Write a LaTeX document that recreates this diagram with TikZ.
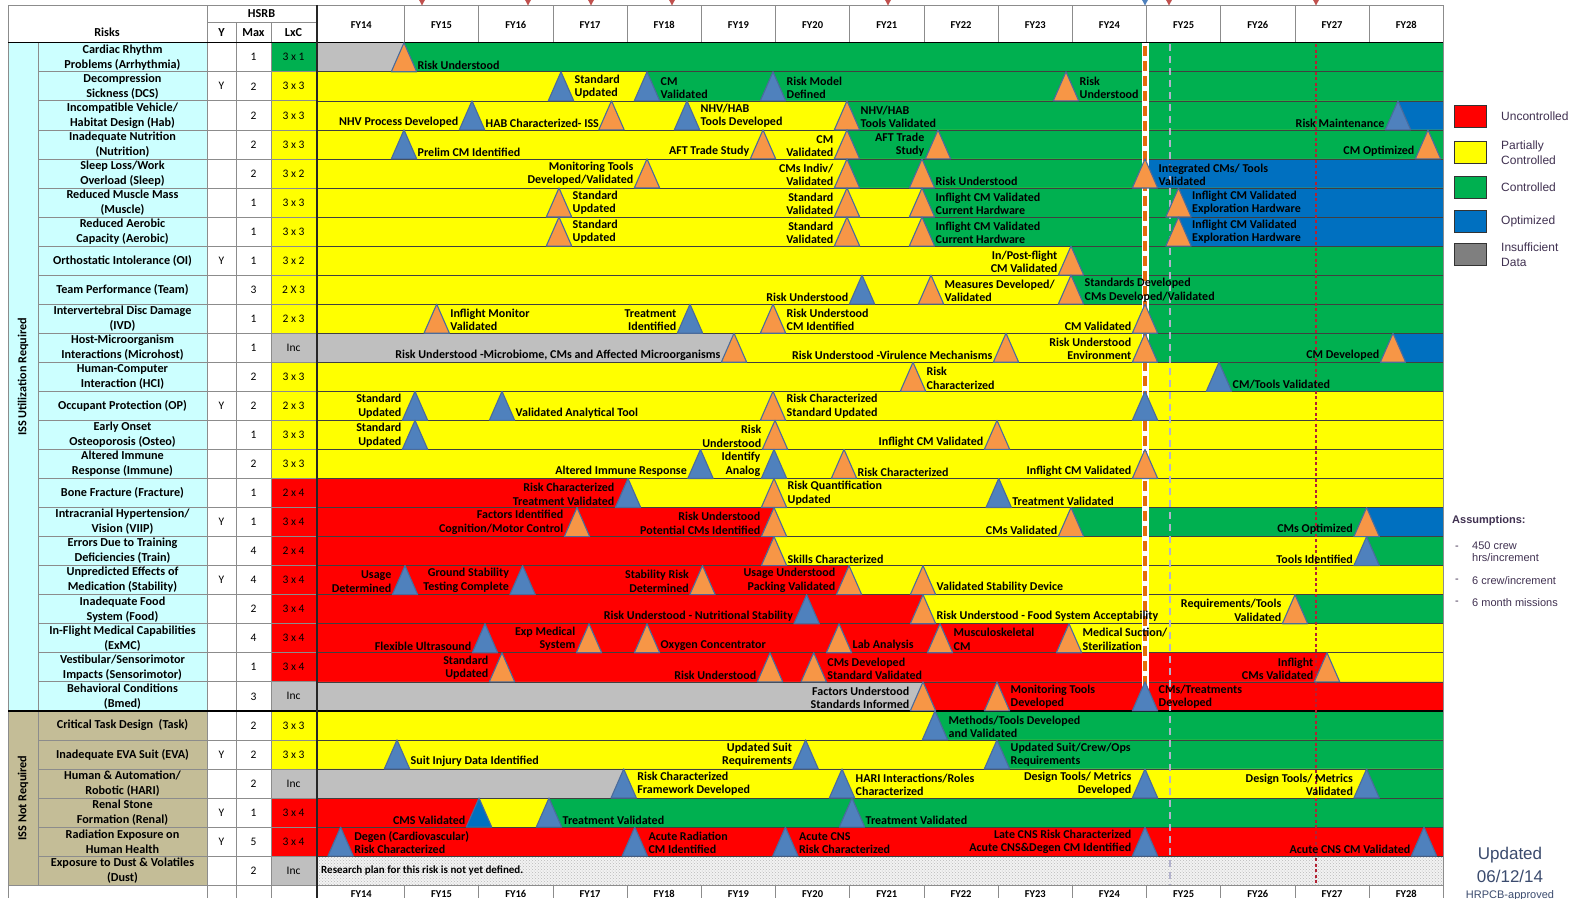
\documentclass[tikz,border=0pt]{standalone}
\usepackage{fontspec}
\setmainfont{Carlito}
\newfontfamily\arialfont{Liberation Sans}
\usetikzlibrary{patterns}

\definecolor{riskred}{HTML}{FF0000}
\definecolor{riskyellow}{HTML}{FFFF00}
\definecolor{riskgreen}{HTML}{00B050}
\definecolor{riskblue}{HTML}{0070C0}
\definecolor{riskgray}{HTML}{BFBFBF}
\definecolor{legendgray}{HTML}{7F7F7F}
\definecolor{msblue}{HTML}{4F81BD}
\definecolor{msorange}{HTML}{F79646}
\definecolor{msedge}{HTML}{4A6B9C}
\definecolor{isscyan}{HTML}{CCFFFF}
\definecolor{isstan}{HTML}{C4BD97}
\definecolor{legendtext}{HTML}{403151}
\definecolor{updtext}{HTML}{3B4B6E}
\definecolor{gridgray}{HTML}{8C8C8C}
\definecolor{markred}{HTML}{C0504D}
\definecolor{dotred}{HTML}{B22234}
\definecolor{nowline}{HTML}{E46C0A}
\definecolor{planline}{RGB}{178,178,205}

\tikzset{
  milestone/.style={draw=msedge, line width=1.1pt, line join=round},
  mslabel/.style={font=\bfseries\fontsize{12}{13.5}\selectfont, inner xsep=1pt, inner ysep=1pt},
  tabletext/.style={font=\bfseries\fontsize{12.2}{15}\selectfont, align=center, inner sep=0pt},
  tablevalue/.style={font=\fontsize{11.5}{13}\selectfont, inner sep=0pt},
  gridline/.style={draw=gridgray, line width=0.7pt},
  rowline/.style={draw=black!75, line width=0.6pt},
  legendbox/.style={draw=black!80, line width=1pt},
  legendlabel/.style={font=\arialfont\fontsize{12}{15.5}\selectfont, text=legendtext, align=left, inner sep=0pt},
  yearlabel/.style={font=\bfseries\fontsize{10.5}{12}\selectfont, inner sep=0pt},
}

% row geometry: 29 rows, first row starts at 42.7
\newcount\lblno
\newcommand{\rowpos}[1]{%
  \pgfmathsetmacro\rtop{42.7+29.05*(#1-1)}%
  \pgfmathsetmacro\rbot{42.7+29.05*#1}}
% colour band from a milestone to the end of the row
\newcommand{\riskband}[3]{\rowpos{#1}%
  \fill[#3] (#2,\rtop) -- (1443.3,\rtop) -- (1443.3,\rbot) -- ({#2-12.7},\rbot) -- cycle;}
% milestone triangle, with or without a label
\newcommand{\msN}[3]{\rowpos{#1}%
  \draw[milestone,fill=#3] (#2,\rtop) -- ({#2+12.7},\rbot) -- ({#2-12.7},\rbot) -- cycle;}
\newcommand{\lblR}[3]{\rowpos{#1}\global\advance\lblno by 1
  \node[mslabel,anchor=south west,align=left] (ms-\the\lblno) at ({#2+12.5},{\rbot-1}) {#3};}
\newcommand{\lblL}[3]{\rowpos{#1}\global\advance\lblno by 1
  \node[mslabel,anchor=south east,align=right] (ms-\the\lblno) at ({#2-12.5},{\rbot-1}) {#3};}
\newcommand{\msR}[4]{\msN{#1}{#2}{#3}\lblR{#1}{#2}{#4}}
\newcommand{\msL}[4]{\msN{#1}{#2}{#3}\lblL{#1}{#2}{#4}}

\begin{document}
\begin{tikzpicture}[x=1pt,y=-1pt]
\useasboundingbox (0,0) rectangle (1585,898);
\fill[white] (0,0) rectangle (1585,898);

% Draw the colour bands of each risk
\begin{scope}
\clip (318,42.7) rectangle (1443.3,885.15);
\riskband{1}{318}{riskgray} \riskband{1}{404}{riskgreen}
\riskband{2}{318}{riskyellow} \riskband{2}{647}{riskgreen}
\riskband{3}{318}{riskyellow} \riskband{3}{847}{riskgreen} \riskband{3}{1398}{riskblue}
\riskband{4}{318}{riskyellow} \riskband{4}{847}{riskgreen}
\riskband{5}{318}{riskyellow} \riskband{5}{847}{riskgreen} \riskband{5}{1145}{riskblue}
\riskband{6}{318}{riskyellow} \riskband{6}{922}{riskgreen} \riskband{6}{1178.5}{riskblue}
\riskband{7}{318}{riskyellow} \riskband{7}{922}{riskgreen} \riskband{7}{1178.5}{riskblue}
\riskband{8}{318}{riskyellow} \riskband{8}{1071}{riskgreen}
\riskband{9}{318}{riskyellow} \riskband{9}{1071}{riskgreen}
\riskband{10}{318}{riskyellow} \riskband{10}{1145}{riskgreen}
\riskband{11}{318}{riskgray} \riskband{11}{734}{riskyellow} \riskband{11}{1145}{riskgreen} \riskband{11}{1393}{riskblue}
\riskband{12}{318}{riskyellow} \riskband{12}{1219}{riskgreen}
\riskband{13}{318}{riskyellow}
\riskband{14}{318}{riskyellow}
\riskband{15}{318}{riskyellow}
\riskband{16}{318}{riskred} \riskband{16}{628}{riskyellow}
\riskband{17}{318}{riskred} \riskband{17}{774}{riskyellow} \riskband{17}{1071}{riskgreen} \riskband{17}{1366.6}{riskblue}
\riskband{18}{318}{riskred} \riskband{18}{774}{riskyellow} \riskband{18}{1366.6}{riskgreen}
\riskband{19}{318}{riskred} \riskband{19}{849}{riskyellow}
\riskband{20}{318}{riskred} \riskband{20}{923}{riskyellow} \riskband{20}{1295}{riskgreen}
\riskband{21}{318}{riskred} \riskband{21}{1069}{riskyellow}
\riskband{22}{318}{riskred} \riskband{22}{1327}{riskyellow}
\riskband{23}{318}{riskgray} \riskband{23}{923}{riskred}
\riskband{24}{318}{riskyellow} \riskband{24}{935}{riskgreen}
\riskband{25}{318}{riskyellow} \riskband{25}{997}{riskgreen}
\riskband{26}{318}{riskgray} \riskband{26}{623.7}{riskyellow} \riskband{26}{1366.6}{riskgreen}
\riskband{27}{318}{riskred} \riskband{27}{479}{riskyellow} \riskband{27}{549}{riskgreen}
\riskband{28}{318}{riskred}
% no plan yet: dotted row
\fill[gray!10] (318,856.1) rectangle (1443.3,885.15);
\fill[pattern=crosshatch dots, pattern color=gray!55] (318,856.1) rectangle (1443.3,885.15);
\end{scope}
\node[mslabel,anchor=west,font=\bfseries\fontsize{11}{12}\selectfont] (dust-note) at (320,870.6) {Research plan for this risk is not yet defined.};

% Draw the row lines of the chart
\foreach \i in {1,...,28}
  \draw[rowline] (318,{42.7+29.05*\i}) -- (1443.3,{42.7+29.05*\i});

% Draw the left table
\fill[isscyan] (8,42.7) rectangle (207,710.9);
\fill[isstan] (8,710.9) rectangle (207,885.15);
\node[tabletext,rotate=90] (iss-req) at (23,376.8) {ISS Utilization Required};
\node[tabletext,rotate=90] (iss-notreq) at (23,798) {ISS Not Required};
\foreach \i/\nm/\yv/\mx/\lxc/\col in {
  1/{Cardiac Rhythm\\Problems (Arrhythmia)}/{}/1/{3 x 1}/riskgreen,
  2/{Decompression\\Sickness (DCS)}/Y/2/{3 x 3}/riskyellow,
  3/{Incompatible Vehicle/\\Habitat Design (Hab)}/{}/2/{3 x 3}/riskyellow,
  4/{Inadequate Nutrition\\(Nutrition)}/{}/2/{3 x 3}/riskyellow,
  5/{Sleep Loss/Work\\Overload (Sleep)}/{}/2/{3 x 2}/riskyellow,
  6/{Reduced Muscle Mass\\(Muscle)}/{}/1/{3 x 3}/riskyellow,
  7/{Reduced Aerobic\\Capacity (Aerobic)}/{}/1/{3 x 3}/riskyellow,
  8/{Orthostatic Intolerance (OI)}/Y/1/{3 x 2}/riskyellow,
  9/{Team Performance (Team)}/{}/3/{2 X 3}/riskyellow,
  10/{Intervertebral Disc Damage\\(IVD)}/{}/1/{2 x 3}/riskyellow,
  11/{Host-Microorganism\\Interactions (Microhost)}/{}/1/Inc/riskgray,
  12/{Human-Computer\\Interaction (HCI)}/{}/2/{3 x 3}/riskyellow,
  13/{Occupant Protection (OP)}/Y/2/{2 x 3}/riskyellow,
  14/{Early Onset\\Osteoporosis (Osteo)}/{}/1/{3 x 3}/riskyellow,
  15/{Altered Immune\\Response (Immune)}/{}/2/{3 x 3}/riskyellow,
  16/{Bone Fracture (Fracture)}/{}/1/{2 x 4}/riskred,
  17/{Intracranial Hypertension/\\Vision (VIIP)}/Y/1/{3 x 4}/riskred,
  18/{Errors Due to Training\\Deficiencies (Train)}/{}/4/{2 x 4}/riskred,
  19/{Unpredicted Effects of\\Medication (Stability)}/Y/4/{3 x 4}/riskred,
  20/{Inadequate Food\\System (Food)}/{}/2/{3 x 4}/riskred,
  21/{In-Flight Medical Capabilities\\(ExMC)}/{}/4/{3 x 4}/riskred,
  22/{Vestibular/Sensorimotor\\Impacts (Sensorimotor)}/{}/1/{3 x 4}/riskred,
  23/{Behavioral Conditions\\(Bmed)}/{}/3/Inc/riskgray,
  24/{Critical Task Design\ \ (Task)}/{}/2/{3 x 3}/riskyellow,
  25/{Inadequate EVA Suit (EVA)}/Y/2/{3 x 3}/riskyellow,
  26/{Human \& Automation/\\Robotic (HARI)}/{}/2/Inc/riskgray,
  27/{Renal Stone\\Formation (Renal)}/Y/1/{3 x 4}/riskred,
  28/{Radiation Exposure on\\Human Health}/Y/5/{3 x 4}/riskred,
  29/{Exposure to Dust \& Volatiles\\(Dust)}/{}/2/Inc/riskgray}{
  \rowpos{\i}
  \pgfmathsetmacro\rmid{(\rtop+\rbot)/2}
  \fill[\col] (271,\rtop) rectangle (316,\rbot);
  \node[tabletext] (risk-\i) at (122.5,\rmid) {\nm};
  \node[tablevalue] (y-\i) at (221.5,\rmid) {\yv};
  \node[tablevalue] (max-\i) at (253.5,\rmid) {\mx};
  \node[tablevalue] (lxc-\i) at (293.5,\rmid) {\lxc};
}
\foreach \i in {1,...,28}
  \draw[gridline] (38,{42.7+29.05*\i}) -- (316,{42.7+29.05*\i});
\draw[gridline] (38,42.7) -- (38,885.15);
\draw[gridline] (207,5) -- (207,898);
\draw[gridline] (236,22.7) -- (236,898);
\draw[gridline] (271,22.7) -- (271,898);
\draw[gridline] (207,22.7) -- (316,22.7);
\node[tabletext] (risks-head) at (107,32.5) {Risks};
\node[tabletext] (hsrb-head) at (261.5,14) {HSRB};
\node[tabletext] (y-head) at (221.5,33) {Y};
\node[tabletext] (max-head) at (253.5,33) {Max};
\node[tabletext] (lxc-head) at (293.5,33) {LxC};

% Draw the year header and footer
\node[yearlabel] (fy14-top) at (361.25,25) {FY14};
\node[yearlabel] (fy14-bot) at (361.25,894) {FY14};
\foreach \n in {15,...,28}{
  \pgfmathsetmacro\xs{404.5+74.2*(\n-15)}
  \draw[gridline] (\xs,5) -- (\xs,42.7);
  \draw[gridline] (\xs,885.15) -- (\xs,898);
  \node[yearlabel] (fy\n-top) at ({\xs+37.1},25) {FY\n};
  \node[yearlabel] (fy\n-bot) at ({\xs+37.1},894) {FY\n};
}

% Draw the outer frame and heavy lines
\draw[gridline] (8,5) -- (1443.3,5);
\draw[gridline] (8,5) -- (8,898);
\draw[gridline] (1443.3,5) -- (1443.3,898);
\draw[gridline] (8,885.15) -- (1443.3,885.15);
\draw[black, line width=1.2pt] (8,42.7) -- (1443.3,42.7);
\draw[black, line width=1.3pt] (8,710.9) -- (1443.3,710.9);
\draw[black!85, line width=1.6pt] (317,5) -- (317,898);

% Draw the plan lines and the top markers
\draw[white, line width=7pt] (1145,42.7) -- (1145,710.9);
\draw[nowline, line width=3.6pt, dash pattern=on 10pt off 5pt] (1145,46) -- (1145,710.9);
\draw[planline, line width=1.8pt, dash pattern=on 7pt off 5pt] (1170,44) -- (1170,885.15);
\draw[dotred, line width=2.2pt, dash pattern=on 3pt off 2.5pt] (1316,44) -- (1316,885.15);
\foreach \xm in {422,528,591,672,888,1169,1316}
  \fill[markred] ({\xm-4.5},-3) -- ({\xm+4.5},-3) -- (\xm,5.5) -- cycle;
\fill[msblue] (1140.5,-3) -- (1149.5,-3) -- (1145,5.5) -- cycle;

% Draw the milestones of each risk
\msR{1}{404}{msorange}{Risk Understood}
\msR{2}{561}{msblue}{Standard\\Updated}
\msR{2}{647}{msblue}{CM\\Validated}
\msR{2}{773}{msblue}{Risk Model\\Defined}
\msR{2}{1066}{msorange}{Risk\\Understood}
\msL{3}{472}{msblue}{NHV Process Developed}
\lblR{3}{472}{HAB Characterized- ISS}
\msN{3}{611.5}{msorange}
\msR{3}{687}{msblue}{NHV/HAB\\Tools Developed}
\msR{3}{847}{msorange}{NHV/HAB\\Tools Validated}
\msL{3}{1398}{msblue}{Risk Maintenance}
\msR{4}{404}{msblue}{Prelim CM Identified}
\msL{4}{763}{msorange}{AFT Trade Study}
\msL{4}{847}{msorange}{CM\\Validated}
\msL{4}{938}{msorange}{AFT Trade\\Study}
\msL{4}{1428}{msorange}{CM Optimized}
\msL{5}{647}{msorange}{Monitoring Tools\\Developed/Validated}
\msL{5}{847}{msorange}{CMs Indiv/\\Validated}
\msR{5}{922}{msorange}{Risk Understood}
\msR{5}{1145}{msorange}{Integrated CMs/ Tools\\Validated}
\msR{6}{559}{msorange}{Standard\\Updated}
\msL{6}{847}{msorange}{Standard\\Validated}
\msR{6}{922}{msorange}{Inflight CM Validated\\Current Hardware}
\msR{6}{1178.5}{msorange}{Inflight CM Validated\\Exploration Hardware}
\msR{7}{559}{msorange}{Standard\\Updated}
\msL{7}{847}{msorange}{Standard\\Validated}
\msR{7}{922}{msorange}{Inflight CM Validated\\Current Hardware}
\msR{7}{1178.5}{msorange}{Inflight CM Validated\\Exploration Hardware}
\msL{8}{1071}{msorange}{In/Post-flight\\CM Validated}
\msL{9}{862}{msblue}{Risk Understood}
\msR{9}{931}{msorange}{Measures Developed/\\Validated}
\msR{9}{1071}{msorange}{Standards Developed\\CMs Developed/Validated}
\msR{10}{436.7}{msorange}{Inflight Monitor\\Validated}
\msL{10}{690}{msblue}{Treatment\\Identified}
\msR{10}{773}{msorange}{Risk Understood\\CM Identified}
\msL{10}{1145}{msorange}{CM Validated}
\msL{11}{734}{msorange}{Risk Understood -Microbiome, CMs and Affected Microorganisms}
\msL{11}{1006}{msorange}{Risk Understood -Virulence Mechanisms}
\msL{11}{1145}{msorange}{Risk Understood\\Environment}
\msL{11}{1393}{msorange}{CM Developed}
\msR{12}{913}{msorange}{Risk\\Characterized}
\msR{12}{1219}{msblue}{CM/Tools Validated}
\msL{13}{415}{msblue}{Standard\\Updated}
\msR{13}{502}{msblue}{Validated Analytical Tool}
\msR{13}{773}{msorange}{Risk Characterized\\Standard Updated}
\msN{13}{1145}{msblue}
\msL{14}{415}{msblue}{Standard\\Updated}
\msL{14}{775}{msorange}{Risk\\Understood}
\msL{14}{997}{msorange}{Inflight CM Validated}
\msL{15}{700.5}{msblue}{Altered Immune Response}
\msL{15}{774}{msblue}{Identify\\Analog}
\msR{15}{844}{msorange}{Risk Characterized}
\msL{15}{1145}{msorange}{Inflight CM Validated}
\msL{16}{628}{msblue}{Risk Characterized\\Treatment Validated}
\msR{16}{774}{msorange}{Risk Quantification\\Updated}
\msR{16}{998.7}{msblue}{Treatment Validated}
\msL{17}{577}{msorange}{Factors Identified\\Cognition/Motor Control}
\msL{17}{774}{msorange}{Risk Understood\\Potential CMs Identified}
\msL{17}{1071}{msorange}{CMs Validated}
\msL{17}{1366.6}{msorange}{CMs Optimized}
\msR{18}{774}{msorange}{Skills Characterized}
\msL{18}{1366.6}{msblue}{Tools Identified}
\msL{19}{405}{msblue}{Usage\\Determined}
\msL{19}{522.6}{msblue}{Ground Stability\\Testing Complete}
\msL{19}{702.5}{msorange}{Stability Risk\\Determined}
\msL{19}{849}{msorange}{Usage Understood\\Packing Validated}
\msR{19}{923}{msorange}{Validated Stability Device}
\msL{20}{806.6}{msblue}{Risk Understood - Nutritional Stability}
\msR{20}{923}{msorange}{Risk Understood - Food System Acceptability}
\msL{20}{1295}{msorange}{Requirements/Tools\\Validated}
\msL{21}{485}{msblue}{Flexible Ultrasound}
\msL{21}{589}{msorange}{Exp Medical\\System}
\msR{21}{647}{msorange}{Oxygen Concentrator}
\msR{21}{839}{msorange}{Lab Analysis}
\msR{21}{940}{msorange}{Musculoskeletal\\CM}
\msR{21}{1069}{msorange}{Medical Suction/\\Sterilization}
\msL{22}{502}{msorange}{Standard\\Updated}
\msL{22}{770}{msorange}{Risk Understood}
\msR{22}{813.7}{msorange}{CMs Developed\\Standard Validated}
\msL{22}{1327}{msorange}{Inflight\\CMs Validated}
\msL{23}{923}{msorange}{Factors Understood\\Standards Informed}
\msR{23}{997}{msorange}{Monitoring Tools\\Developed}
\msR{23}{1145}{msblue}{CMs/Treatments\\Developed}
\msR{24}{935}{msblue}{Methods/Tools Developed\\and Validated}
\msR{25}{397}{msblue}{Suit Injury Data Identified}
\msL{25}{805.6}{msblue}{Updated Suit\\Requirements}
\msR{25}{997}{msblue}{Updated Suit/Crew/Ops\\Requirements}
\msR{26}{623.7}{msblue}{Risk Characterized\\Framework Developed}
\msR{26}{842}{msblue}{HARI Interactions/Roles\\Characterized}
\msL{26}{1145}{msblue}{Design Tools/ Metrics\\Developed}
\msL{26}{1366.6}{msblue}{Design Tools/ Metrics\\Validated}
\msL{27}{479}{riskblue}{CMS Validated}
\msR{27}{549}{msblue}{Treatment Validated}
\msR{27}{852}{msblue}{Treatment Validated}
\msR{28}{340.6}{msblue}{Degen (Cardiovascular)\\Risk Characterized}
\msR{28}{634.8}{msblue}{Acute Radiation\\CM Identified}
\msR{28}{785.4}{msblue}{Acute CNS\\Risk Characterized}
\msL{28}{1145}{msblue}{Late CNS Risk Characterized\\Acute CNS\&Degen CM Identified}
\msL{28}{1424}{msblue}{Acute CNS CM Validated}

% Draw the legend
\foreach \c/\yy/\txt [count=\k] in {riskred/116/Uncontrolled, riskyellow/152.8/{Partially\\Controlled},
    riskgreen/187.5/Controlled, riskblue/221.7/Optimized, legendgray/254.8/{Insufficient\\Data}}{
  \draw[legendbox,fill=\c] (1454,{\yy-11}) rectangle (1486,{\yy+11});
  \node[legendlabel,anchor=west] (legend-\k) at (1501,\yy) {\txt};
}

% Assumptions and update note
\node[legendlabel,anchor=west,font=\arialfont\bfseries\fontsize{11}{13}\selectfont] (assume) at (1452,520.7) {Assumptions:};
\node[legendlabel,font=\arialfont\fontsize{11}{12}\selectfont] (dash-1) at (1457,547.7) {-};
\node[legendlabel,anchor=north west,font=\arialfont\fontsize{11}{11.5}\selectfont] (assume-1) at (1472,542) {450 crew\\hrs/increment};
\node[legendlabel,font=\arialfont\fontsize{11}{12}\selectfont] (dash-2) at (1457,580.7) {-};
\node[legendlabel,anchor=west,font=\arialfont\fontsize{11}{12}\selectfont] (assume-2) at (1472,580.7) {6 crew/increment};
\node[legendlabel,font=\arialfont\fontsize{11}{12}\selectfont] (dash-3) at (1457,602.7) {-};
\node[legendlabel,anchor=west,font=\arialfont\fontsize{11}{12}\selectfont] (assume-3) at (1472,602.7) {6 month missions};
\node[align=center,text=updtext,font=\arialfont\fontsize{17}{23.5}\selectfont,inner sep=0pt] (updated) at (1510,865) {Updated\\06/12/14};
\node[text=updtext,font=\arialfont\fontsize{11}{12}\selectfont,inner sep=0pt] (approved) at (1510,895.5) {HRPCB-approved};
\end{tikzpicture}
\end{document}
